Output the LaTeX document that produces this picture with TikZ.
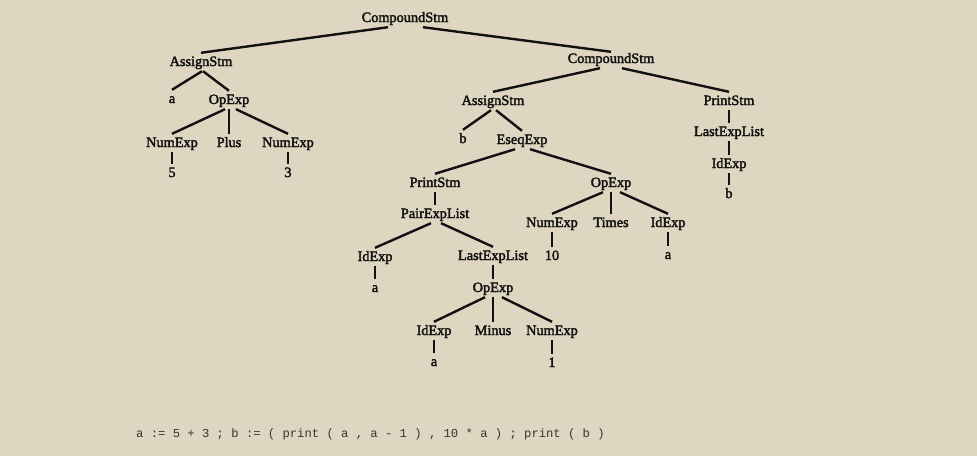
\documentclass[tikz,border=0pt]{standalone}
\usepackage{fontspec}
\setmainfont[FakeBold=2.4]{Liberation Serif}
\newfontfamily\codefont{Liberation Mono}
\usetikzlibrary{calc}
\definecolor{bgc}{HTML}{DED6C0}
\definecolor{ink}{HTML}{111111}
\tikzset{
  lab/.style={inner sep=2pt, text height=11pt, text depth=3pt, font=\fontsize{14.3}{16}\selectfont, text=ink},
  edge/.style={draw=ink, line width=2.4pt}
}
\begin{document}
\begin{tikzpicture}[x=1pt,y=-1pt]
\fill[bgc] (0,0) rectangle (977,456);
\useasboundingbox (0,0) rectangle (977,456);
% left subtree
\node[lab] (root) at (405,18) {CompoundStm};
\node[lab] (as1) at (201,62) {AssignStm};
\node[lab] (a1) at (172,99) {a};
\node[lab] (op1) at (229,100) {OpExp};
\node[lab] (n1) at (172,143) {NumExp};
\node[lab] (plus) at (229,143) {Plus};
\node[lab] (n2) at (288,143) {NumExp};
\node[lab] (five) at (172,173) {5};
\node[lab] (three) at (288,173) {3};
% right subtree
\node[lab] (cs2) at (611,59) {CompoundStm};
\node[lab] (as2) at (493,101) {AssignStm};
\node[lab] (ps1) at (729,101) {PrintStm};
\node[lab] (lel1) at (729,132) {LastExpList};
\node[lab] (id1) at (729,164) {IdExp};
\node[lab] (b2) at (729,194) {b};
\node[lab] (b1) at (463,139) {b};
\node[lab] (eseq) at (522,140) {EseqExp};
\node[lab] (ps2) at (435,183) {PrintStm};
\node[lab] (op2) at (611,183) {OpExp};
\node[lab] (pel) at (435,214) {PairExpList};
\node[lab] (n3) at (552,223) {NumExp};
\node[lab] (times) at (611,223) {Times};
\node[lab] (id2) at (668,223) {IdExp};
\node[lab] (ten) at (552,256) {10};
\node[lab] (a2) at (668,255) {a};
\node[lab] (id3) at (375,257) {IdExp};
\node[lab] (lel2) at (493,256) {LastExpList};
\node[lab] (a3) at (375,288) {a};
\node[lab] (op3) at (493,288) {OpExp};
\node[lab] (id4) at (434,331) {IdExp};
\node[lab] (minus) at (493,331) {Minus};
\node[lab] (n4) at (552,331) {NumExp};
\node[lab] (a4) at (434,362) {a};
\node[lab] (one) at (552,363) {1};
% code line
\node[anchor=base west, inner sep=0pt, font=\codefont\fontsize{12.2}{14}\selectfont, text=ink!85] (code) at (136,437)
  {a := 5 + 3 ; b := ( print ( a , a - 1 ) , 10 * a ) ; print ( b )};
% edges
\draw[edge] ([xshift=-17pt]root.south) -- (as1.north);
\draw[edge] ([xshift=18pt]root.south) -- ([yshift=-2pt]cs2.north);
\draw[edge] ([xshift=1pt]as1.south) -- (a1.north);
\draw[edge] ([xshift=2pt]as1.south) -- (op1.north);
\draw[edge] ([xshift=-4pt]op1.south) -- (n1.north);
\draw[edge] (op1.south) -- (plus.north);
\draw[edge] ([xshift=7pt]op1.south) -- (n2.north);
\draw[edge] (n1.south) -- (five.north);
\draw[edge] (n2.south) -- (three.north);
\draw[edge] ([xshift=-11pt]cs2.south) -- (as2.north);
\draw[edge] ([xshift=11pt]cs2.south) -- (ps1.north);
\draw[edge] (ps1.south) -- (lel1.north);
\draw[edge] (lel1.south) -- (id1.north);
\draw[edge] (id1.south) -- (b2.north);
\draw[edge] ([xshift=-2pt]as2.south) -- (b1.north);
\draw[edge] ([xshift=3pt]as2.south) -- (eseq.north);
\draw[edge] ([xshift=-7pt]eseq.south) -- (ps2.north);
\draw[edge] ([xshift=8pt]eseq.south) -- (op2.north);
\draw[edge] (ps2.south) -- (pel.north);
\draw[edge] ([xshift=-4pt]pel.south) -- (id3.north);
\draw[edge] ([xshift=6pt]pel.south) -- (lel2.north);
\draw[edge] (id3.south) -- (a3.north);
\draw[edge] (lel2.south) -- (op3.north);
\draw[edge] ([xshift=-8pt]op3.south) -- (id4.north);
\draw[edge] (op3.south) -- (minus.north);
\draw[edge] ([xshift=9pt]op3.south) -- (n4.north);
\draw[edge] (id4.south) -- (a4.north);
\draw[edge] (n4.south) -- (one.north);
\draw[edge] ([xshift=-8pt]op2.south) -- (n3.north);
\draw[edge] (op2.south) -- (times.north);
\draw[edge] ([xshift=9pt]op2.south) -- (id2.north);
\draw[edge] (n3.south) -- (ten.north);
\draw[edge] (id2.south) -- (a2.north);
\end{tikzpicture}
\end{document}
